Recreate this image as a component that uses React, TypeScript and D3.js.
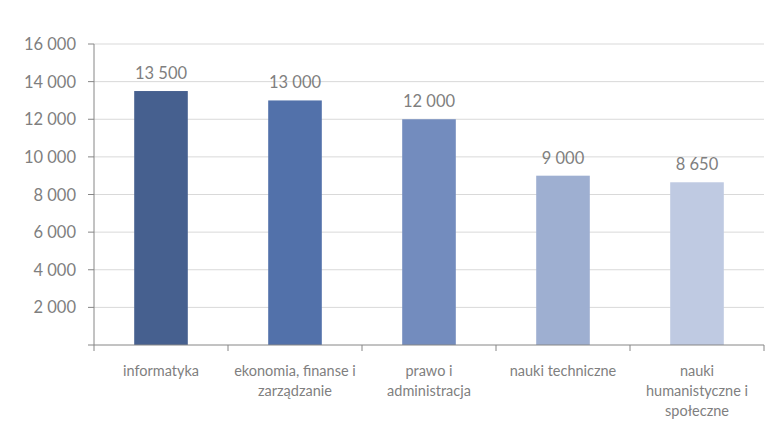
import React from "react";
import * as d3 from "d3";

const categories = [
  ["informatyka"],
  ["ekonomia, finanse i", "zarządzanie"],
  ["prawo i", "administracja"],
  ["nauki techniczne"],
  ["nauki", "humanistyczne i", "społeczne"],
];
const values = [13500, 13000, 12000, 9000, 8650];
const colors = ["#46608f", "#5271aa", "#738cbe", "#9eafd1", "#bfcae2"];
const yTicks = [2000, 4000, 6000, 8000, 10000, 12000, 14000, 16000];

const W = 780;
const H = 427;
const left = 94;
const right = 764;
const top = 44;
const bottom = 345;
const font = "Lato, 'Open Sans', sans-serif";
const textColor = "#7f7f7f";

const fmt = (v: number) => d3.format(",")(v).replace(/,/g, " ");

export default function App() {
  const idx = categories.map((_, i) => String(i));
  const x = d3.scaleBand().domain(idx).range([left, right]).padding(0);
  const y = d3.scaleLinear().domain([0, 16000]).range([bottom, top]);
  const bw = x.bandwidth() * 0.4;
  const boundaries = idx.map((d) => x(d) as number).concat([right]);

  return (
    <svg
      width={W}
      height={H}
      style={{ position: "absolute", left: 0, top: 0, background: "#fff" }}
      fontFamily={font}
    >
      {yTicks.map((t) => (
        <line key={"g" + t} x1={left} x2={right} y1={y(t)} y2={y(t)} stroke="#d9d9d9" strokeWidth={1} />
      ))}
      {values.map((v, i) => {
        const cx = (x(String(i)) as number) + x.bandwidth() / 2;
        return (
          <g key={"b" + i}>
            <rect x={cx - bw / 2} y={y(v)} width={bw} height={bottom - y(v)} fill={colors[i]} />
            <text x={cx} y={y(v) - 12} textAnchor="middle" fontSize={16.5} fill={textColor}>
              {fmt(v)}
            </text>
          </g>
        );
      })}
      <line x1={left} x2={left} y1={top} y2={bottom} stroke="#868686" />
      <line x1={left} x2={right} y1={bottom} y2={bottom} stroke="#868686" />
      {[0, ...yTicks].map((t) => (
        <g key={"t" + t}>
          <line x1={left - 6} x2={left} y1={y(t)} y2={y(t)} stroke="#868686" />
          {t > 0 && (
            <text x={76} y={y(t) + 6} textAnchor="end" fontSize={16.5} fill={textColor}>
              {fmt(t)}
            </text>
          )}
        </g>
      ))}
      {boundaries.map((b, i) => (
        <line key={"xt" + i} x1={b} x2={b} y1={bottom} y2={bottom + 6} stroke="#868686" />
      ))}
      {categories.map((lines, i) => {
        const cx = (x(String(i)) as number) + x.bandwidth() / 2;
        return (
          <text key={"c" + i} textAnchor="middle" fontSize={14.5} fill={textColor}>
            {lines.map((l, j) => (
              <tspan key={j} x={cx} y={376 + j * 20}>
                {l}
              </tspan>
            ))}
          </text>
        );
      })}
    </svg>
  );
}
